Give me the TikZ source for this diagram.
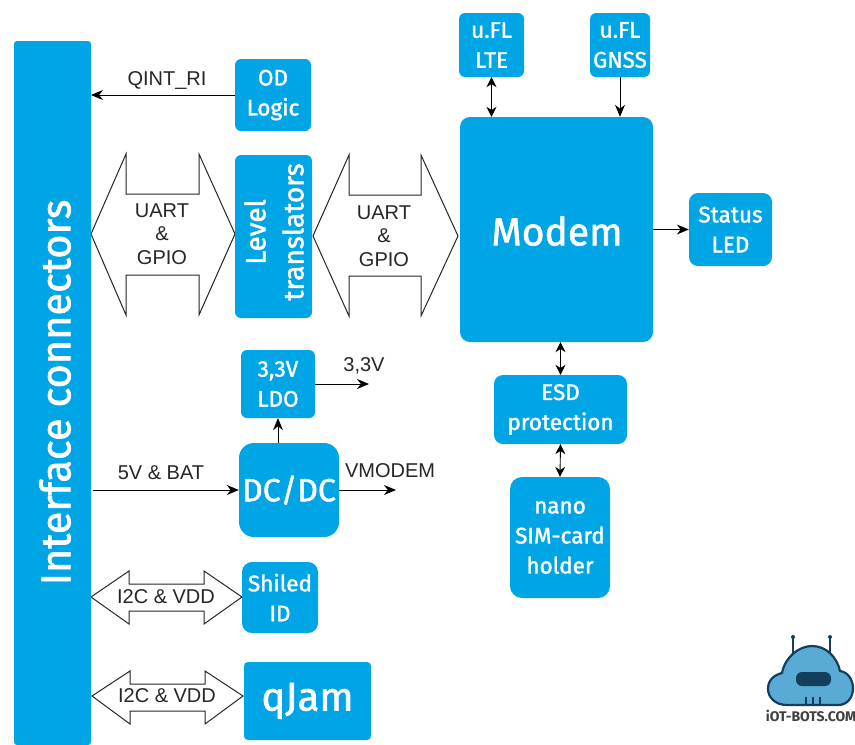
\documentclass[tikz,border=0pt]{standalone}
\usepackage{fontspec}
\setmainfont{Liberation Sans}
\newfontfamily\boxfont[FakeBold=1.6]{Fira Sans}
\newfontfamily\logofont{Fira Sans}
\usetikzlibrary{arrows.meta,calc}
\definecolor{bx}{HTML}{00A5E6}
\definecolor{logofill}{HTML}{5AAAD6}
\definecolor{logoline}{HTML}{143F5C}
\tikzset{
  blk/.style={fill=bx,draw=none,rounded corners=#1,inner sep=0pt,text=white,align=center,font=\boxfont\fontsize{22.5}{30}\selectfont},
  blk/.default=6pt,
  lbl/.style={inner sep=0pt,text=black!85,align=center,font=\fontsize{20}{23.5}\selectfont},
  conn/.style={draw=black,line width=0.9pt,-{Stealth[length=12pt,width=10pt]}},
  biconn/.style={draw=black,line width=0.9pt,{Stealth[length=10pt,width=10pt]}-{Stealth[length=10pt,width=10pt]}},
  fat/.style={draw=black!85,line width=1pt,fill=white,line join=miter}
}
\begin{document}
\begin{tikzpicture}[x=1pt,y=-1pt]
\useasboundingbox (0,0) rectangle (855,745);
\fill[white] (0,0) rectangle (855,745);
% big block arrows
\draw[fat] (91,234) -- (126,154) -- (126,194) -- (199,194) -- (199,154) -- (235,234) -- (199,315) -- (199,275) -- (126,275) -- (126,315) -- cycle;
\draw[fat] (313,236) -- (349,155) -- (349,195) -- (421,195) -- (421,155) -- (458,236) -- (421,316) -- (421,276) -- (349,276) -- (349,316) -- cycle;
\draw[fat] (91,597) -- (129,571) -- (129,584) -- (204,584) -- (204,571) -- (242,597) -- (204,624) -- (204,611) -- (129,611) -- (129,624) -- cycle;
\draw[fat] (92,696) -- (130,671) -- (130,684) -- (205,684) -- (205,671) -- (243,696) -- (205,724) -- (205,711) -- (130,711) -- (130,724) -- cycle;
% blocks
\node[blk,minimum width=77pt,minimum height=704pt,rounded corners=3pt] (iface) at (52.5,393) {};
\node[text=white,font=\boxfont\fontsize{41.5}{44}\selectfont,rotate=90,inner sep=0pt] at (55,392.5) {Interface connectors};
\node[blk,minimum width=76pt,minimum height=72pt] (od) at (273,95) {OD\\Logic};
\node[blk,minimum width=77pt,minimum height=163pt] (lt) at (273.5,236.5) {};
\node[text=white,rotate=90,align=center,inner sep=0pt,font=\boxfont\fontsize{28}{38}\selectfont] at (274,232) {Level\\translators};
\node[blk=10pt,minimum width=193pt,minimum height=225pt] (modem) at (556.5,229.5) {};
\node[text=white,font=\boxfont\fontsize{39}{42}\selectfont,inner sep=0pt] at (557,231) {Modem};
\node[blk,minimum width=65pt,minimum height=64pt] (lte) at (491.5,45) {u.FL\\LTE};
\node[blk,minimum width=60pt,minimum height=64pt] (gnss) at (620,45) {u.FL\\GNSS};
\node[blk=9pt,minimum width=83pt,minimum height=73pt] (led) at (730.5,229.5) {Status\\LED};
\node[blk=9pt,minimum width=133pt,minimum height=69pt] (esd) at (560.5,409.5) {ESD\\protection};
\node[blk=12pt,minimum width=100pt,minimum height=121pt] (sim) at (560,537.5) {nano\\SIM-card\\holder};
\node[blk,minimum width=74pt,minimum height=68pt] (ldo) at (278,384) {3,3V\\LDO};
\node[blk=15pt,minimum width=100pt,minimum height=94pt,font=\boxfont\fontsize{32}{34}\selectfont] (dc) at (289,490) {DC/DC};
\node[blk=10pt,minimum width=76pt,minimum height=71pt] (shield) at (280,597.5) {Shiled\\ID};
\node[blk=4pt,minimum width=127pt,minimum height=78pt,font=\boxfont\fontsize{40}{44}\selectfont] (qjam) at (307.5,701) {qJam};
% coordinates for free ends
\coordinate (qintend) at (91,95);
\coordinate (batstart) at (93,490);
\coordinate (vmodemend) at (396,490);
\coordinate (v33end) at (369,384);
% connectors
\draw[conn] (od.west) -- (qintend);
\draw[conn] (batstart) -- (dc.west);
\draw[conn] (dc.east) -- (vmodemend);
\draw[conn] (ldo.east) -- (v33end);
\draw[conn] (dc.north -| ldo.south) -- (ldo.south);
\draw[biconn] (lte.south) -- (lte.south |- modem.north);
\draw[conn] (gnss.south) -- (gnss.south |- modem.north);
\draw[conn] (modem.east |- led.west) -- (led.west);
\draw[biconn] (modem.south -| esd.north) -- (esd.north);
\draw[biconn] (esd.south) -- (sim.north);
% labels
\node[lbl] at (167,81) {QINT\_RI};
\node[lbl] at (162,234) {UART\\\&\\GPIO};
\node[lbl] at (384,236) {UART\\\&\\GPIO};
\node[lbl] at (364,366) {3,3V};
\node[lbl] at (161,473) {5V \& BAT};
\node[lbl] at (390,471) {VMODEM};
\node[lbl] at (166,597) {I2C \& VDD};
\node[lbl] at (167,696) {I2C \& VDD};
% logo
\draw[logoline,line width=1.6pt] (793,665) -- (793,638);
\draw[logoline,line width=1.6pt] (830,665) -- (830,638);
\fill[logoline] (793,637) circle (2pt) (830,637) circle (2pt);
\draw[logoline,line width=2.2pt,fill=logofill]
  (787,705) .. controls (775,705) and (768,697) .. (768,689)
  .. controls (768,680) and (774,675) .. (782,673)
  .. controls (785,657) and (799,646) .. (812,646)
  .. controls (826,646) and (837,657) .. (840,671)
  .. controls (848,672) and (853,680) .. (853,688)
  .. controls (853,698) and (847,705) .. (838,705) -- cycle;
\fill[logoline,rounded corners=6pt] (796,672) rectangle (831,686);
\draw[logoline,line width=1.6pt] (806,705) -- (806,697) (813,705) -- (813,697) (820,705) -- (820,697);
\node[inner sep=0pt,text=black!75,font=\logofont\fontsize{14}{15}\selectfont\bfseries] at (811,716) {iOT-BOTS.COM};
\end{tikzpicture}
\end{document}
